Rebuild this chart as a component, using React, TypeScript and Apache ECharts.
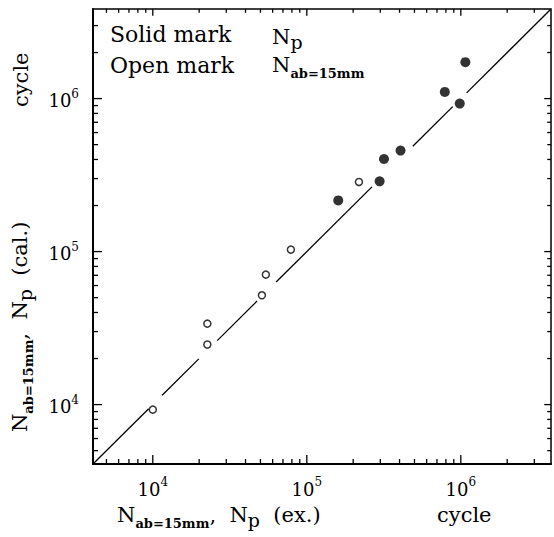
import React, { useEffect, useRef } from 'react';
import * as echarts from 'echarts';

const axisMin = 4090;
const axisMax = 3850000;
const majorTicks = [10000, 100000, 1000000];
const minorTicks = [
  5000, 6000, 7000, 8000, 9000,
  20000, 30000, 40000, 50000, 60000, 70000, 80000, 90000,
  200000, 300000, 400000, 500000, 600000, 700000, 800000, 900000,
  2000000, 3000000,
];

// Open marks: N_ab=15mm
const openX = [10000, 22600, 22600, 51100, 54200, 78800, 218000];
const openY = [9270, 33800, 24700, 51800, 70700, 103000, 285000];
// Solid marks: N_p
const solidX = [160000, 297000, 317000, 406000, 787000, 984000, 1070000];
const solidY = [216000, 288000, 403000, 457000, 1106000, 927000, 1730000];

// y = x reference line, drawn in pieces (breaks near the marks)
const lineSegments = [
  [axisMin, 9400],
  [11500, 19900],
  [26200, 47500],
  [63200, 264800],
  [487700, 885800],
  [1090000, axisMax],
];

const FONT = '"DejaVu Serif", "Liberation Serif", serif';

const titleRich = {
  n: { fontSize: 21, fontFamily: FONT, lineHeight: 25, verticalAlign: 'top', color: '#000' },
  s: { fontSize: 13, fontFamily: FONT, fontWeight: 'bold', lineHeight: 14, verticalAlign: 'bottom', color: '#000' },
  p: { fontSize: 19, fontFamily: FONT, lineHeight: 20, verticalAlign: 'bottom', color: '#000' },
};

const tickLabelRich = {
  b: { fontSize: 18, fontFamily: FONT, lineHeight: 22, verticalAlign: 'bottom', color: '#000' },
  s: { fontSize: 12, fontFamily: FONT, lineHeight: 12, verticalAlign: 'top', color: '#000' },
};

function powLabel(v: number) {
  const e = Math.log10(v);
  if (Math.abs(e - Math.round(e)) > 1e-6) return '';
  return `{b|10}{s|${Math.round(e)}}`;
}

const MAJOR_LEN = 9;
const MINOR_LEN = 5;

export default function App() {
  const ref = useRef<HTMLDivElement>(null);
  useEffect(() => {
    if (!ref.current) return;
    const chart = echarts.init(ref.current, undefined, { renderer: 'svg' });
    const axisCommon = {
      type: 'log',
      logBase: 10,
      min: axisMin,
      max: axisMax,
      axisLine: { show: true, lineStyle: { color: '#000', width: 2 } },
      axisTick: { show: false },
      splitLine: { show: false },
    };
    const series: any[] = [];
    lineSegments.forEach((seg) => {
      series.push({
        type: 'line',
        data: [[seg[0], seg[0]], [seg[1], seg[1]]],
        symbol: 'none',
        lineStyle: { color: '#000', width: 1.3 },
      });
    });
    series.push({
      type: 'scatter',
      data: openX.map((x, i) => [x, openY[i]]),
      symbol: 'circle',
      symbolSize: 7,
      itemStyle: { color: '#fff', borderColor: '#000', borderWidth: 1.5 },
    });
    series.push({
      type: 'scatter',
      data: solidX.map((x, i) => [x, solidY[i]]),
      symbol: 'circle',
      symbolSize: 10,
      itemStyle: { color: '#000' },
    });

    const texts: any[] = [
      {
        type: 'text', x: 110, y: 34,
        style: { text: 'Solid mark', fontSize: 22, fontFamily: FONT, fill: '#000', verticalAlign: 'middle', align: 'left' },
      },
      {
        type: 'text', x: 110, y: 65,
        style: { text: 'Open mark', fontSize: 22, fontFamily: FONT, fill: '#000', verticalAlign: 'middle', align: 'left' },
      },
      {
        type: 'text', x: 272, y: 39,
        style: { text: '{n|N}{p|p}', rich: titleRich, fill: '#000', verticalAlign: 'middle', align: 'left' },
      },
      {
        type: 'text', x: 272, y: 67,
        style: { text: '{n|N}{s|ab=15mm}', rich: titleRich, fill: '#000', verticalAlign: 'middle', align: 'left' },
      },
      {
        type: 'text', x: 117, y: 517,
        style: { text: '{n|N}{s|ab=15mm}{n|,  N}{p|p}{n|  (ex.)}', rich: titleRich, fill: '#000', verticalAlign: 'middle', align: 'left' },
      },
      {
        type: 'text', x: 437, y: 517,
        style: { text: '{n|cycle}', rich: titleRich, fill: '#000', verticalAlign: 'middle', align: 'left' },
      },
      {
        type: 'text', x: 22, y: 432, rotation: Math.PI / 2,
        style: { text: '{n|N}{s|ab=15mm}{n|,  N}{p|p}{n|  (cal.)}', rich: titleRich, fill: '#000', verticalAlign: 'middle', align: 'left' },
      },
      {
        type: 'text', x: 23, y: 107, rotation: Math.PI / 2,
        style: { text: '{n|cycle}', rich: titleRich, fill: '#000', verticalAlign: 'middle', align: 'left' },
      },
    ];

    const option: any = {
      animation: false,
      backgroundColor: '#fff',
      grid: {
        left: 93,
        right: 1,
        top: 9,
        bottom: 73,
        show: true,
        borderColor: '#000',
        borderWidth: 1.5,
      },
      xAxis: {
        ...axisCommon,
        axisLabel: { formatter: powLabel, rich: tickLabelRich, margin: 12, color: '#000' },
      },
      yAxis: {
        ...axisCommon,
        axisLabel: { formatter: powLabel, rich: tickLabelRich, margin: 14, color: '#000' },
      },
      series,
      graphic: texts,
    };
    chart.setOption(option);

    // Inward ticks on all four sides, positioned through the chart's own log scales
    const left = chart.convertToPixel({ xAxisIndex: 0 }, axisMin) as number;
    const right = chart.convertToPixel({ xAxisIndex: 0 }, axisMax) as number;
    const bottom = chart.convertToPixel({ yAxisIndex: 0 }, axisMin) as number;
    const top = chart.convertToPixel({ yAxisIndex: 0 }, axisMax) as number;
    const st = { stroke: '#000', lineWidth: 1.3 };
    const tickEls: any[] = [];
    const addTicks = (vals: number[], len: number) => {
      vals.forEach((v) => {
        const px = chart.convertToPixel({ xAxisIndex: 0 }, v) as number;
        const py = chart.convertToPixel({ yAxisIndex: 0 }, v) as number;
        const l2 = len * 0.75;
        tickEls.push(
          { type: 'line', silent: true, shape: { x1: px, y1: bottom, x2: px, y2: bottom - len }, style: st },
          { type: 'line', silent: true, shape: { x1: px, y1: top, x2: px, y2: top + l2 }, style: st },
          { type: 'line', silent: true, shape: { x1: left, y1: py, x2: left + len, y2: py }, style: st },
          { type: 'line', silent: true, shape: { x1: right, y1: py, x2: right - l2, y2: py }, style: st },
        );
      });
    };
    addTicks(majorTicks, MAJOR_LEN);
    addTicks(minorTicks, MINOR_LEN);
    chart.setOption({ graphic: [...texts, ...tickEls] });

    return () => chart.dispose();
  }, []);
  return (
    <div
      ref={ref}
      style={{ position: 'fixed', left: 0, top: 0, width: 554, height: 537, background: '#fff' }}
    />
  );
}
